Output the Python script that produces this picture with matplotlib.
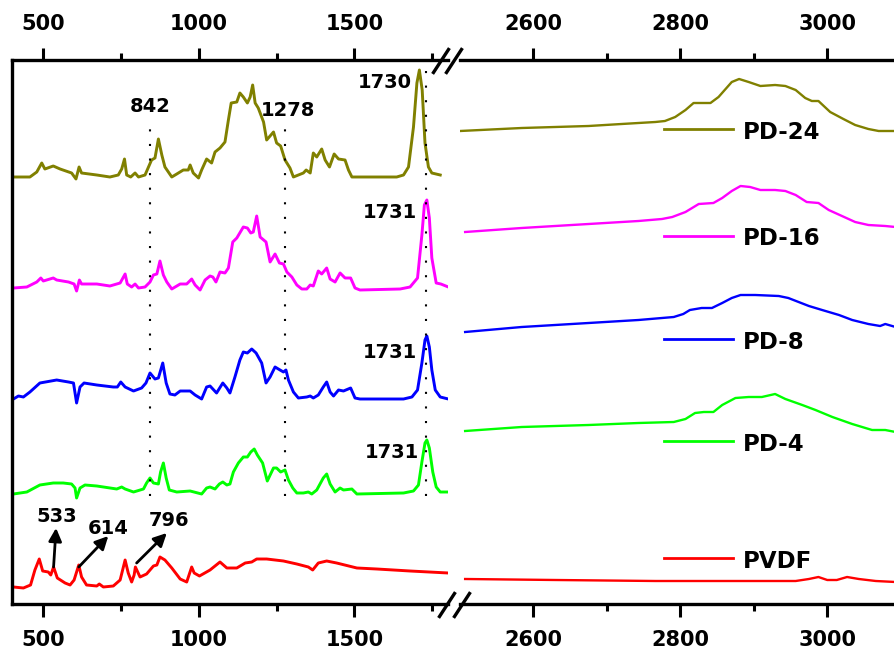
import matplotlib
matplotlib.use('Agg')
import matplotlib.pyplot as plt
from matplotlib.lines import Line2D

plt.rcParams['font.family'] = ['DejaVu Sans']
plt.rcParams['font.weight'] = 'bold'

# ---- fingerprint region, 400-1800 cm-1 (transmittance, a.u., stacked) ----
pd24_wn = [409, 457, 479, 495, 505, 532, 554, 591, 605, 615,
           623, 672, 714, 741, 752, 761, 768, 781, 795, 806,
           827, 848, 859, 870, 881, 891, 913, 929, 950, 966,
           972, 982, 999, 1009, 1025, 1041, 1052, 1068, 1084, 1095,
           1104, 1122, 1132, 1143, 1156, 1165, 1173, 1181, 1191, 1208,
           1218, 1240, 1250, 1263, 1277, 1293, 1304, 1336, 1345, 1358,
           1368, 1379, 1395, 1406, 1420, 1435, 1449, 1470, 1481, 1492,
           1572, 1636, 1658, 1674, 1690, 1701, 1709, 1718, 1727, 1738,
           1749, 1776]
pd24_t = [42.7, 42.7, 43.2, 44.1, 43.5, 43.8, 43.5, 43.1, 42.5, 43.7,
          43.1, 42.9, 42.7, 42.9, 43.5, 44.5, 42.9, 42.7, 43.1, 42.7,
          42.9, 44.4, 44.6, 46.5, 44.9, 43.7, 42.7, 43.0, 43.4, 43.4,
          43.9, 43.1, 42.6, 43.4, 44.5, 44.1, 45.2, 45.6, 46.2, 48.4,
          50.1, 50.2, 51.1, 50.7, 50.1, 50.7, 51.9, 50.1, 49.6, 48.2,
          46.4, 47.2, 46.1, 45.8, 44.4, 43.6, 42.7, 43.1, 43.4, 43.1,
          45.1, 44.7, 45.5, 44.4, 43.7, 45.0, 44.5, 44.4, 43.4, 42.7,
          42.7, 42.7, 42.9, 43.7, 47.7, 52.1, 53.4, 51.4, 46.1, 43.7,
          43.1, 42.9]

pd16_wn = [404, 447, 479, 492, 500, 532, 543, 581, 599, 607,
           616, 623, 672, 714, 747, 763, 770, 784, 795, 806,
           827, 843, 854, 865, 875, 886, 897, 913, 940, 961,
           977, 988, 1004, 1020, 1036, 1045, 1055, 1068, 1084, 1095,
           1109, 1122, 1143, 1156, 1167, 1175, 1186, 1197, 1216, 1229,
           1245, 1259, 1272, 1283, 1299, 1315, 1331, 1347, 1358, 1368,
           1384, 1395, 1411, 1422, 1438, 1454, 1470, 1488, 1502, 1518,
           1647, 1679, 1703, 1717, 1725, 1733, 1741, 1749, 1763, 1778,
           1802]
pd16_t = [31.6, 31.7, 32.2, 32.6, 32.3, 32.6, 32.4, 32.2, 32.0, 31.3,
          32.4, 32.0, 32.0, 31.8, 32.1, 33.0, 32.0, 31.7, 32.0, 31.6,
          31.7, 32.2, 32.9, 33.0, 34.3, 32.9, 32.2, 31.5, 32.0, 32.0,
          32.5, 31.9, 31.4, 32.4, 32.8, 32.7, 32.2, 33.2, 33.1, 33.6,
          36.2, 36.6, 37.7, 37.6, 37.1, 37.2, 38.8, 36.7, 36.2, 34.2,
          35.0, 34.1, 34.0, 33.2, 32.7, 31.9, 31.5, 31.5, 31.9, 31.8,
          33.3, 33.0, 33.6, 32.5, 32.2, 33.1, 32.6, 32.6, 31.6, 31.4,
          31.5, 31.7, 32.6, 36.9, 39.9, 40.4, 38.6, 34.6, 32.1, 32.0,
          31.7]

pd8_wn = [404, 420, 436, 457, 489, 543, 581, 597, 607, 618,
          631, 672, 725, 738, 749, 763, 790, 816, 830, 843,
          859, 870, 884, 895, 907, 923, 940, 972, 988, 1009,
          1025, 1036, 1057, 1077, 1090, 1100, 1116, 1132, 1143, 1156,
          1170, 1184, 1202, 1216, 1229, 1245, 1261, 1272, 1280, 1288,
          1304, 1320, 1347, 1358, 1368, 1384, 1400, 1411, 1422, 1433,
          1449, 1465, 1488, 1502, 1518, 1658, 1685, 1703, 1717, 1727,
          1733, 1741, 1749, 1760, 1776, 1802]
pd8_t = [20.5, 20.8, 20.7, 21.2, 22.1, 22.4, 22.2, 22.1, 20.1, 21.7,
         22.1, 21.9, 21.7, 21.7, 22.2, 21.7, 21.3, 21.6, 22.1, 23.1,
         22.5, 22.6, 24.1, 22.1, 21.0, 20.9, 21.3, 21.3, 20.9, 20.5,
         21.7, 21.8, 21.1, 22.1, 21.6, 21.1, 22.7, 24.4, 25.2, 25.1,
         25.5, 25.1, 24.1, 22.1, 22.7, 23.7, 23.4, 23.2, 23.4, 22.4,
         21.2, 20.6, 20.7, 20.8, 20.6, 20.9, 21.7, 22.2, 21.2, 20.8,
         21.4, 21.3, 21.6, 20.6, 20.5, 20.5, 20.7, 21.4, 24.1, 26.4,
         26.8, 25.7, 23.4, 21.4, 20.7, 20.5]

pd4_wn = [404, 447, 489, 532, 564, 591, 602, 607, 618, 634,
          672, 736, 752, 763, 790, 822, 832, 843, 854, 870,
          877, 886, 895, 905, 929, 972, 1009, 1025, 1036, 1052,
          1066, 1077, 1090, 1100, 1111, 1127, 1143, 1156, 1167, 1178,
          1188, 1205, 1220, 1240, 1250, 1263, 1277, 1288, 1302, 1315,
          1336, 1352, 1363, 1379, 1400, 1411, 1422, 1438, 1454, 1465,
          1492, 1508, 1658, 1690, 1706, 1717, 1727, 1733, 1741, 1752,
          1763, 1776, 1802]
pd4_t = [11.0, 11.2, 11.9, 12.1, 12.1, 12.0, 11.6, 10.6, 11.6, 11.9,
         11.8, 11.5, 11.7, 11.5, 11.2, 11.5, 12.1, 12.6, 12.1, 12.0,
         13.2, 14.1, 12.6, 11.4, 11.2, 11.3, 11.0, 11.6, 11.7, 11.5,
         12.0, 12.2, 11.9, 12.0, 13.2, 14.1, 14.7, 14.7, 15.2, 15.5,
         14.9, 14.1, 12.3, 13.6, 13.6, 13.2, 13.4, 12.4, 11.6, 11.1,
         11.1, 11.2, 11.0, 11.4, 12.6, 13.0, 12.0, 11.2, 11.6, 11.4,
         11.5, 11.0, 11.1, 11.3, 11.9, 14.2, 16.1, 16.4, 15.6, 13.2,
         11.7, 11.2, 11.2]

pvdf_wn = [404, 436, 459, 473, 487, 498, 516, 524, 533, 545,
           570, 586, 599, 614, 623, 639, 672, 680, 693, 725,
           747, 763, 773, 784, 792, 796, 811, 832, 854, 865,
           875, 891, 913, 940, 961, 977, 985, 1002, 1036, 1068,
           1090, 1122, 1149, 1170, 1186, 1218, 1272, 1315, 1352, 1366,
           1384, 1411, 1443, 1508, 1572, 1679, 1802]
pvdf_t = [1.7, 1.6, 1.9, 3.4, 4.5, 3.3, 3.2, 2.9, 3.7, 2.6,
          2.1, 1.9, 2.4, 3.9, 2.7, 1.9, 1.8, 2.0, 1.7, 1.8,
          2.4, 4.4, 3.1, 2.2, 2.9, 3.7, 2.7, 3.0, 3.8, 3.9,
          4.7, 4.4, 3.6, 2.5, 2.2, 3.7, 3.1, 2.8, 3.4, 4.2,
          3.6, 3.6, 4.1, 4.2, 4.5, 4.5, 4.3, 4.0, 3.7, 3.4,
          4.1, 4.3, 4.1, 3.6, 3.5, 3.3, 3.1]

# ---- C-H stretching region, 2500-3100 cm-1 ----
pd24_ch_wn = [2500, 2584, 2675, 2720, 2766, 2779, 2793, 2807, 2818, 2841,
              2852, 2870, 2880, 2893, 2909, 2929, 2943, 2957, 2970, 2979,
              2988, 3004, 3022, 3038, 3056, 3070, 3093]
pd24_ch_t = [47.3, 47.6, 47.8, 48.0, 48.2, 48.3, 48.7, 49.4, 50.1, 50.1,
             50.7, 52.2, 52.5, 52.2, 51.8, 51.9, 51.8, 51.4, 50.6, 50.3,
             50.3, 49.2, 48.5, 47.9, 47.5, 47.3, 47.3]

pd16_ch_wn = [2507, 2584, 2675, 2743, 2775, 2789, 2807, 2825, 2845, 2857,
              2870, 2882, 2895, 2909, 2929, 2943, 2957, 2972, 2988, 3002,
              3020, 3038, 3056, 3079, 3093]
pd16_ch_t = [37.2, 37.6, 38.0, 38.3, 38.5, 38.7, 39.2, 40.0, 40.1, 40.6,
             41.3, 41.8, 41.7, 41.4, 41.4, 41.3, 40.9, 40.2, 40.1, 39.4,
             38.8, 38.2, 37.9, 37.8, 37.7]

pd8_ch_wn = [2507, 2584, 2675, 2743, 2791, 2804, 2813, 2829, 2843, 2857,
             2870, 2882, 2902, 2934, 2947, 2961, 2975, 2993, 3016, 3034,
             3056, 3072, 3079, 3093]
pd8_ch_t = [27.2, 27.7, 28.1, 28.4, 28.7, 29.0, 29.4, 29.6, 29.6, 30.1,
            30.6, 30.9, 30.9, 30.8, 30.6, 30.2, 29.8, 29.4, 28.9, 28.4,
            28.0, 27.8, 28.0, 27.7]

pd4_ch_wn = [2507, 2584, 2675, 2743, 2791, 2807, 2820, 2832, 2845, 2857,
             2875, 2893, 2911, 2929, 2943, 2966, 2984, 3007, 3034, 3061,
             3079, 3093]
pd4_ch_t = [17.3, 17.7, 17.9, 18.1, 18.2, 18.5, 19.1, 19.2, 19.2, 19.9,
            20.6, 20.7, 20.7, 21.0, 20.5, 19.9, 19.4, 18.7, 18.0, 17.4,
            17.4, 17.2]

pvdf_ch_wn = [2507, 2630, 2766, 2902, 2957, 2975, 2988, 3000, 3013, 3027,
              3043, 3066, 3093]
pvdf_ch_t = [2.5, 2.4, 2.3, 2.3, 2.3, 2.5, 2.7, 2.4, 2.4, 2.7,
             2.5, 2.3, 2.2]

labels = ['PD-24', 'PD-16', 'PD-8', 'PD-4', 'PVDF']
colors = ['#808000', '#FF00FF', '#0000FF', '#00FF00', '#FF0000']

low = [(pd24_wn, pd24_t), (pd16_wn, pd16_t), (pd8_wn, pd8_t),
       (pd4_wn, pd4_t), (pvdf_wn, pvdf_t)]
high = [(pd24_ch_wn, pd24_ch_t), (pd16_ch_wn, pd16_ch_t), (pd8_ch_wn, pd8_ch_t),
        (pd4_ch_wn, pd4_ch_t), (pvdf_ch_wn, pvdf_ch_t)]

# guide lines (cm-1) and the span they cover
guide_pos = [842, 1278, 1731]
guide_top = [48.0, 48.0, 53.7]
guide_bottom = 10.8

W, H = 895, 654
fig = plt.figure(figsize=(W / 100, H / 100), dpi=100)

def px(x0, y0, w, h):
    # axes rectangle given in pixels from top-left corner
    return [x0 / W, 1 - (y0 + h) / H, w / W, h / H]

ax1 = fig.add_axes(px(12.2, 60, 435.5, 544))
ax2 = fig.add_axes(px(460, 60, 440.7, 544))

for (x, y), c in zip(low, colors):
    ax1.plot(x, y, color=c, lw=2.1)
for (x, y), c in zip(high, colors):
    ax2.plot(x, y, color=c, lw=1.7)

for xg, yt in zip(guide_pos, guide_top):
    ax1.plot([xg, xg], [guide_bottom, yt], color='black', lw=1.5,
             ls=(0, (1, 6)))

ax1.set_xlim(400, 1800)
ax2.set_xlim(2500, 3100)
for ax in (ax1, ax2):
    ax.set_ylim(0, 54.4)
    ax.set_yticks([])
    ax.tick_params(axis='x', which='major', direction='out', length=9,
                   width=2.2, top=True, bottom=True, labeltop=True,
                   labelbottom=True, labelsize=15, pad=9.5)
    ax.tick_params(axis='x', which='minor', direction='out', length=5,
                   width=2.2, top=True, bottom=True)
    for s in ('top', 'bottom', 'left'):
        ax.spines[s].set_linewidth(2.4)
    ax.spines['right'].set_visible(False)
    ax.set_facecolor('none')
ax2.spines['left'].set_visible(False)

ax1.set_xticks([500, 1000, 1500])
ax1.set_xticks([750, 1250, 1750], minor=True)
ax2.set_xticks([2600, 2800, 3000])
ax2.set_xticks([2700, 2900], minor=True)

# peak labels
ax1.text(842, 49.7, '842', fontsize=14, ha='center', va='center')
ax1.text(1287, 49.4, '1278', fontsize=14, ha='center', va='center')
ax1.text(1598, 52.2, '1730', fontsize=14, ha='center', va='center')
ax1.text(1615, 39.1, '1731', fontsize=14, ha='center', va='center')
ax1.text(1615, 25.2, '1731', fontsize=14, ha='center', va='center')
ax1.text(1621, 15.1, '1731', fontsize=14, ha='center', va='center')
ax1.text(544, 8.8, '533', fontsize=14, ha='center', va='center')
ax1.text(710, 7.6, '614', fontsize=14, ha='center', va='center')
ax1.text(904, 8.3, '796', fontsize=14, ha='center', va='center')

arrow = dict(arrowstyle='-|>,head_length=0.6,head_width=0.3',
             mutation_scale=13, lw=2, color='black', shrinkA=0, shrinkB=0)
ax1.annotate('', xy=(541, 7.6), xytext=(533, 3.7), arrowprops=arrow)
ax1.annotate('', xy=(709, 6.8), xytext=(614, 3.7), arrowprops=arrow)
ax1.annotate('', xy=(897, 7.1), xytext=(800, 4.1), arrowprops=arrow)

# legend entries stacked next to each trace
leg_y = [0.873, 0.677, 0.487, 0.299, 0.084]
for lab, c, yy in zip(labels, colors, leg_y):
    ax2.plot([0.463, 0.620], [yy, yy], color=c, lw=2.0,
             transform=ax2.transAxes, clip_on=False)
    ax2.text(0.642, yy - 0.006, lab, fontsize=16.5, ha='left', va='center',
             transform=ax2.transAxes)

# axis break marks
def slash(cx, cy):
    fig.add_artist(Line2D([(cx - 7.5) / W, (cx + 7.5) / W],
                          [1 - (cy + 11.5) / H, 1 - (cy - 11.5) / H],
                          color='black', lw=2.4))

for cx in (441, 454):
    slash(cx, 61)
for cx in (447, 462):
    slash(cx, 605)

fig.savefig('out.png', dpi=100)
